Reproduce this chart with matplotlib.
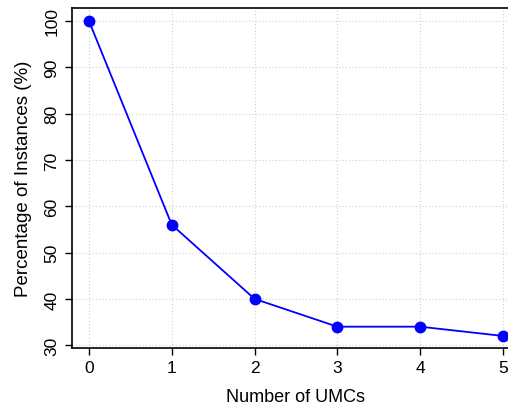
import matplotlib
matplotlib.use("Agg")
import matplotlib.pyplot as plt

umcs = [0, 1, 2, 3, 4, 5]
pct = [100, 56, 40, 34, 34, 32]
yticks = [30, 40, 50, 60, 70, 80, 90, 100]

plt.rcParams['font.family'] = ['Liberation Sans', 'DejaVu Sans']

fig = plt.figure(figsize=(5.08, 4.10), dpi=100)
ax = fig.add_axes([0.1417, 0.1488, 0.881, 0.8293])

ax.plot(umcs, pct, color="blue", lw=1.3, marker="o", markersize=7.5, zorder=3)

ax.set_xlim(-0.205, 5.2)
ax.set_ylim(29.4, 102.8)
ax.set_xticks(umcs)
ax.set_yticks(yticks)
ax.tick_params(direction="out", length=5, width=1, labelsize=12.5, pad=4)
for lab in ax.get_yticklabels():
    lab.set_rotation(90)
    lab.set_va("center")
ax.grid(True, color="#d0d0d0", linestyle=(0, (1, 2)), linewidth=0.8)

for s in ax.spines.values():
    s.set_linewidth(1.2)

ax.set_xlabel("Number of UMCs", fontsize=13, labelpad=9)
ax.set_ylabel("Percentage of Instances (%)", fontsize=13.5, labelpad=9)

fig.savefig("out.png", dpi=100)
